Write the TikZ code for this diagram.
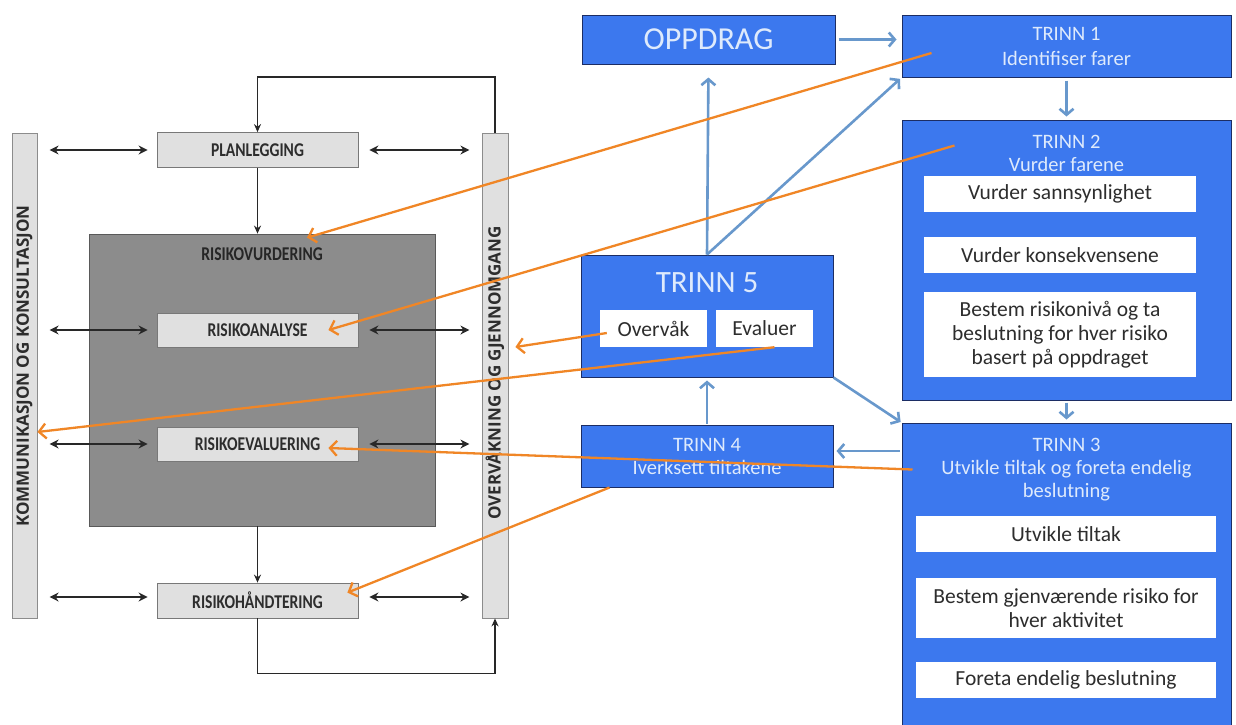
\documentclass[tikz,border=0pt]{standalone}
\usepackage{fontspec}
\setmainfont{Carlito}
\newfontfamily\condfont{Carlito}[FakeStretch=0.8]
\newfontfamily\barfont{Open Sans}
\usetikzlibrary{arrows.meta,calc}

\definecolor{bluefill}{RGB}{60,120,238}
\definecolor{navy}{RGB}{28,45,100}
\definecolor{bluetext}{RGB}{222,234,252}
\definecolor{arrowblue}{RGB}{104,152,204}
\definecolor{orangeline}{RGB}{240,134,38}
\definecolor{lightgr}{RGB}{224,224,224}
\definecolor{grline}{RGB}{120,120,120}
\definecolor{darkgr}{RGB}{140,140,140}
\definecolor{darkline}{RGB}{40,40,40}
\definecolor{labtext}{RGB}{45,45,45}

\tikzset{
  bluebox/.style={draw=navy, line width=1pt, fill=bluefill, inner sep=0pt,
    text=bluetext, align=center},
  title/.style={text=bluetext, align=center, inner sep=0pt,
    font=\fontsize{20.5}{23}\selectfont},
  wbox/.style={fill=white, draw=none, inner sep=0pt, text=labtext, align=center,
    font=\fontsize{21.5}{24}\selectfont},
  stepgray/.style={fill=lightgr, draw=grline, line width=0.8pt, inner sep=0pt,
    minimum width=201pt, minimum height=35pt, text=labtext,
    font=\condfont\bfseries\fontsize{19.5}{22}\selectfont},
  sidebar/.style={fill=lightgr, draw=darkgr, line width=0.8pt, inner sep=0pt,
    minimum height=485pt},
  barlabel/.style={rotate=90, text=labtext, inner sep=0pt,
    font=\barfont\bfseries\fontsize{17}{18}\selectfont},
  barr/.style={draw=arrowblue, line width=2.6pt,
    -{Straight Barb[length=6pt,width=14pt]}},
  oarr/.style={draw=orangeline, line width=2.3pt,
    -{Straight Barb[length=7pt,width=15pt]}},
  blk/.style={draw=darkline, line width=1.4pt,
    -{Stealth[length=8pt,width=7pt]}},
  dbl/.style={draw=darkline, line width=2pt,
    {Stealth[length=9pt,width=9pt]}-{Stealth[length=9pt,width=9pt]}},
}

\begin{document}
\begin{tikzpicture}[x=1pt,y=-1pt]
\clip (0,0) rectangle (1236,724);
\fill[white] (0,0) rectangle (1236,724);

% ---------- risk management process (left) ----------
\node[sidebar, minimum width=25pt] (kk) at (24.5,375.5) {};
\node[barlabel] (kkl) at (24.5,366) {KOMMUNIKASJON OG KONSULTASJON};
\node[sidebar, minimum width=26pt] (og) at (495,375.5) {};
\node[barlabel] (ogl) at (495,373) {OVERVÅKNING OG GJENNOMGANG};

\node[fill=darkgr, draw=black!65, line width=0.8pt, minimum width=346pt,
      minimum height=292pt, inner sep=0pt] (vurd) at (262,380) {};
\node[text=black!85, inner sep=0pt, font=\condfont\bfseries\fontsize{19.5}{22}\selectfont]
      (vurdl) at (262,254) {RISIKOVURDERING};

\node[stepgray] (plan) at (257.5,150) {PLANLEGGING};
\node[stepgray, minimum height=34pt] (anal) at (257.5,330) {RISIKOANALYSE};
\node[stepgray, minimum height=34pt] (eval) at (257.5,444) {RISIKOEVALUERING};
\node[stepgray] (hand) at (257.5,600.5) {RISIKOHÅNDTERING};

\draw[blk] (plan.south) -- (plan.south |- vurd.north);
\draw[blk] (vurd.south -| hand.north) -- (hand.north);
\draw[blk] (og.north) |- ($(plan.north)+(0,-55)$) -- (plan.north);
\draw[blk] (hand.south) -- ++(0,55) -| (og.south);

\foreach \b/\dy in {plan/0, anal/0, eval/0, hand/-3.5}{
  \draw[dbl] ($(\b.west)+(-107,\dy)$) -- ($(\b.west)+(-9,\dy)$);
  \draw[dbl] ($(\b.east)+(11,\dy)$) -- ($(\b.east)+(111,\dy)$);
}

% ---------- five steps (right) ----------
\node[bluebox, minimum width=253pt, minimum height=49pt,
      font=\fontsize{32}{34}\selectfont] (opp) at (708.5,39.5) {OPPDRAG};
\node[bluebox, minimum width=329pt, minimum height=62pt,
      font=\fontsize{20.5}{25}\selectfont] (t1) at (1066.5,46)
      {TRINN 1\\Identifiser farer};

\node[bluebox, minimum width=329pt, minimum height=280pt] (t2) at (1066.5,260) {};
\node[title] (t2l) at (1066.5,153.5) {TRINN 2\\Vurder farene};
\node[wbox, minimum width=272pt, minimum height=36pt] (w1) at (1060,194)
      {Vurder sannsynlighet};
\node[wbox, minimum width=272pt, minimum height=36pt] (w2) at (1060,255)
      {Vurder konsekvensene};
\node[wbox, minimum width=272pt, minimum height=85pt] (w3) at (1060,334.5)
      {Bestem risikonivå og ta\\beslutning for hver risiko\\basert på oppdraget};

\node[bluebox, minimum width=329pt, minimum height=317pt] (t3) at (1066.5,581.5) {};
\node[title, font=\fontsize{20.5}{23}\selectfont] (t3l) at (1066.5,470)
      {TRINN 3\\Utvikle tiltak og foreta endelig\\beslutning};
\node[wbox, minimum width=300pt, minimum height=36pt] (u1) at (1066,534)
      {Utvikle tiltak};
\node[wbox, minimum width=300pt, minimum height=60pt] (u2) at (1066,608)
      {Bestem gjenværende risiko for\\hver aktivitet};
\node[wbox, minimum width=300pt, minimum height=36pt] (u3) at (1066,680)
      {Foreta endelig beslutning};

\node[bluebox, minimum width=252pt, minimum height=62pt,
      font=\fontsize{20.5}{23}\selectfont] (t4) at (707,456)
      {TRINN 4\\Iverksett tiltakene};

\node[bluebox, minimum width=252pt, minimum height=122pt] (t5) at (707,316) {};
\node[title, font=\fontsize{31}{32}\selectfont] (t5l) at (707,283) {TRINN 5};
\node[wbox, minimum width=107pt, minimum height=37pt] (ov) at (653.5,328.5) {Overvåk};
\node[wbox, minimum width=97pt, minimum height=37pt] (ev) at (764.5,328.5) {Evaluer};

\draw[barr, shorten <=3pt, shorten >=5pt] (opp.east) -- (opp.east -| t1.west);
\draw[barr, shorten <=3pt, shorten >=3pt] (t1.south) -- (t2.north);
\draw[barr, shorten <=2pt, shorten >=3pt] (t2.south) -- (t3.north);
\draw[barr, shorten <=2pt, shorten >=3pt] ($(t4.east -| t3.west)+(0,-5)$) -- ($(t4.east)+(0,-5)$);
\draw[barr, shorten <=1pt, shorten >=3pt] (t4.north) -- (t5.south);
\draw[barr, shorten >=13pt] (t5.north) -- (opp.south);
\draw[barr, shorten >=2pt] (t5.north) -- (t1.south west);
\draw[barr, shorten >=1pt] (t5.south east) -- (t3.north west);

% ---------- links between the two models ----------
\draw[oarr] ($(t1.west)+(30,7)$) -- ($(vurd.north)+(45,4)$);
\draw[oarr] ($(t2.north west)+(53,26)$) -- ($(anal.east)+(-30,0)$);
\draw[oarr] ($(ov.west)+(7,4.5)$) -- ($(og.east)+(7,-28.5)$);
\draw[oarr] ($(ev.south)+(10,0)$) -- ($(kk.east)+(0,56.5)$);
\draw[oarr] ($(t3.north west)+(11,47)$) -- ($(eval.east)+(-30,4)$);
\draw[oarr] ($(t4.south west)+(29,0)$) -- ($(hand.north east)+(-11,10)$);
\end{tikzpicture}
\end{document}
